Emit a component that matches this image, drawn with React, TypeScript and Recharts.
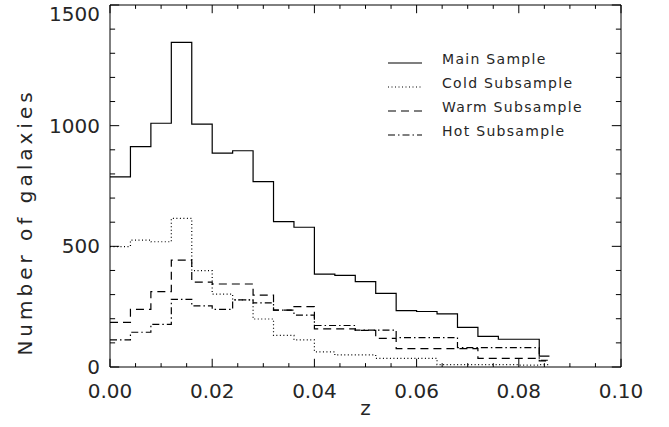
import { LineChart, Line, XAxis, YAxis, Legend, ReferenceLine } from "recharts";

// histogram bin edges in z (last bin is cut short at 0.086)
const binEdges = [
  0, 0.004, 0.008, 0.012, 0.016, 0.02, 0.024, 0.028, 0.032, 0.036, 0.04, 0.044,
  0.048, 0.052, 0.056, 0.06, 0.064, 0.068, 0.072, 0.076, 0.08, 0.084, 0.086,
];

const mainSample = [788, 913, 1010, 1345, 1006, 886, 896, 768, 602, 579, 385, 380, 354, 305, 234, 230, 220, 164, 127, 115, 115, 45];
const coldSubsample = [499, 526, 519, 616, 399, 302, 278, 199, 131, 112, 63, 50, 50, 36, 36, 36, 10, 10, 10, 10, 8, 10];
const warmSubsample = [185, 239, 312, 443, 352, 344, 344, 298, 236, 250, 158, 158, 152, 119, 76, 76, 76, 76, 36, 36, 36, 25];
const hotSubsample = [112, 144, 177, 280, 253, 239, 278, 266, 236, 215, 172, 172, 153, 153, 122, 122, 122, 80, 80, 80, 80, 28];

const xTicks = [0, 0.005, 0.01, 0.015, 0.02, 0.025, 0.03, 0.035, 0.04, 0.045, 0.05, 0.055, 0.06, 0.065, 0.07, 0.075, 0.08, 0.085, 0.09, 0.095, 0.1];
const xLabelTicks = [0, 0.02, 0.04, 0.06, 0.08, 0.1];
const yTicks = [0, 100, 200, 300, 400, 500, 600, 700, 800, 900, 1000, 1100, 1200, 1300, 1400, 1500];
const yLabelTicks = [0, 500, 1000, 1500];

const X_MAX = 0.1;
const Y_MAX = 1500;

const series = [
  { key: "main", name: "Main Sample", values: mainSample, dash: undefined as string | undefined },
  { key: "cold", name: "Cold Subsample", values: coldSubsample, dash: "1 2.5" },
  { key: "warm", name: "Warm Subsample", values: warmSubsample, dash: "8 5" },
  { key: "hot", name: "Hot Subsample", values: hotSubsample, dash: "7 3 1.5 3" },
];

// one row per bin edge; the closing edge repeats the last bin so stepAfter draws it
const rows = binEdges.map((z, i) => {
  const row: Record<string, number> = { z };
  series.forEach((s) => {
    row[s.key] = s.values[Math.min(i, s.values.length - 1)];
  });
  return row;
});

const FONT = "'DejaVu Sans', sans-serif";
const INK = "#262626";

const isIn = (v: number, list: number[]) => list.some((t) => Math.abs(t - v) < 1e-9);

// inward tick lengths, in data units of the other axis
const xTickLen = (v: number) => (isIn(v, xLabelTicks) ? 34 : 16);
const yTickLen = (v: number) => (isIn(v, yLabelTicks) ? 0.0018 : 0.001);

function BottomLabel({ x, y, payload }: any) {
  if (!isIn(payload.value, xLabelTicks)) return <g />;
  return (
    <text x={x} y={y + 31} textAnchor="middle" fontSize={20} fill={INK} fontFamily={FONT}>
      {payload.value.toFixed(2)}
    </text>
  );
}

function LeftLabel({ x, y, payload }: any) {
  if (!isIn(payload.value, yLabelTicks)) return <g />;
  // the top label sits a little low so it is not cut by the frame edge
  const ty = payload.value === Y_MAX ? y + 9 : y;
  return (
    <text x={x - 10} y={ty + 7} textAnchor="end" fontSize={20} fill={INK} fontFamily={FONT}>
      {payload.value}
    </text>
  );
}

function LegendBox() {
  return (
    <svg width={260} height={110}>
      {series.map((s, i) => {
        const base = 22 + i * 24;
        return (
          <g key={s.key}>
            <line x1={8} x2={42} y1={base - 1} y2={base - 1} stroke="#000" strokeWidth={1.2} strokeDasharray={s.dash} />
            <text x={62} y={base} fontSize={14} letterSpacing={1.3} fill={INK} fontFamily={FONT}>
              {s.name}
            </text>
          </g>
        );
      })}
    </svg>
  );
}

const frame = { xAxisId: "bottom", yAxisId: "left", stroke: "#000", strokeWidth: 1 };

export default function App() {
  return (
    <div style={{ position: "absolute", left: 0, top: 0, background: "#fff" }}>
      <LineChart width={669} height={427} data={rows} margin={{ top: 5, right: 48, bottom: 0, left: 0 }}>
        <XAxis
          xAxisId="bottom"
          dataKey="z"
          type="number"
          domain={[0, X_MAX]}
          ticks={xTicks}
          interval={0}
          height={60}
          tickSize={0}
          tickMargin={0}
          tickLine={false}
          tick={(p: any) => <BottomLabel {...p} />}
          axisLine={{ stroke: "#000" }}
          label={{
            content: ({ viewBox }: any) => (
              <text
                x={viewBox.x + viewBox.width / 2}
                y={viewBox.y + 48}
                textAnchor="middle"
                fontSize={20}
                fill={INK}
                fontFamily={FONT}
              >
                z
              </text>
            ),
          }}
        />
        <YAxis
          yAxisId="left"
          type="number"
          domain={[0, Y_MAX]}
          ticks={yTicks}
          interval={0}
          width={110}
          tickSize={0}
          tickMargin={0}
          tickLine={false}
          tick={(p: any) => <LeftLabel {...p} />}
          axisLine={{ stroke: "#000" }}
          label={{
            content: ({ viewBox }: any) => {
              const cx = viewBox.x + 25;
              const cy = viewBox.y + viewBox.height / 2 + 36;
              return (
                <text
                  x={cx}
                  y={cy}
                  transform={`rotate(-90, ${cx}, ${cy})`}
                  textAnchor="middle"
                  dominantBaseline="central"
                  fontSize={20}
                  letterSpacing={4}
                  fill={INK}
                  fontFamily={FONT}
                >
                  Number of galaxies
                </text>
              );
            },
          }}
        />
        <ReferenceLine {...frame} y={Y_MAX} />
        <ReferenceLine {...frame} x={X_MAX} />
        {xTicks.map((v) => (
          <ReferenceLine key={`xb-${v}`} {...frame} segment={[{ x: v, y: 0 }, { x: v, y: xTickLen(v) }]} />
        ))}
        {xTicks.map((v) => (
          <ReferenceLine key={`xt-${v}`} {...frame} segment={[{ x: v, y: Y_MAX }, { x: v, y: Y_MAX - xTickLen(v) }]} />
        ))}
        {yTicks.map((v) => (
          <ReferenceLine key={`yl-${v}`} {...frame} segment={[{ x: 0, y: v }, { x: yTickLen(v), y: v }]} />
        ))}
        {yTicks.map((v) => (
          <ReferenceLine key={`yr-${v}`} {...frame} segment={[{ x: X_MAX, y: v }, { x: X_MAX - yTickLen(v), y: v }]} />
        ))}
        <Legend
          layout="vertical"
          align="center"
          verticalAlign="middle"
          wrapperStyle={{ left: 380, top: 42, width: 260, height: 110 }}
          content={() => <LegendBox />}
        />
        {series.map((s) => (
          <Line
            key={s.key}
            xAxisId="bottom"
            yAxisId="left"
            type="stepAfter"
            dataKey={s.key}
            name={s.name}
            stroke="#000"
            strokeWidth={1.2}
            strokeDasharray={s.dash}
            dot={false}
            activeDot={false}
            isAnimationActive={false}
          />
        ))}
      </LineChart>
    </div>
  );
}
